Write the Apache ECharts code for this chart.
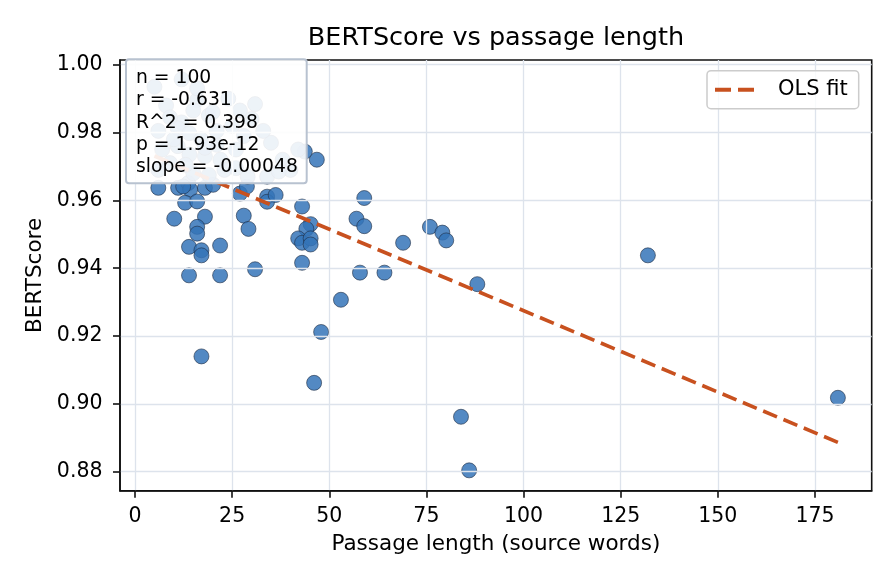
<!DOCTYPE html>
<html>

<head>
    <meta charset="utf-8" />
    <script src="https://cdn.jsdelivr.net/npm/echarts@6/dist/echarts.min.js"></script>
    <style>
        html, body { margin: 0; padding: 0; background: #fff; }
    </style>
</head>

<body>
<div id="main" style="width: 896px;height:584px;"></div>

<script>
    // passage length (source words) and BERTScore for each passage
    // first block: points visible outside the stats box, second block: the ones under it
    var passageWords = [
        6.0, 11.1, 13.7, 14.2, 18.0, 20.1, 12.4, 12.9, 16.0, 10.1,
        18.0, 16.0, 16.0, 13.9, 17.1, 17.1, 21.9, 13.9, 21.9, 30.9,
        27.0, 28.8, 28.0, 29.2, 34.0, 34.0, 36.2, 43.0, 45.2, 44.1,
        42.0, 43.0, 45.2, 45.2, 43.0, 53.0, 47.9, 17.1, 46.1, 59.0,
        57.0, 59.0, 69.0, 75.9, 79.1, 80.1, 57.9, 64.2, 88.1, 132.0,
        180.9, 83.9, 86.0, 46.8, 43.7, 30.9,
        5, 16, 19, 12, 11, 14, 17, 21, 26, 11,
        14, 18, 22, 29, 34, 6, 9, 12, 8, 20,
        25, 28, 35, 38, 15, 23, 10, 7, 16, 24,
        30, 40, 18, 13, 19, 26, 9, 27, 33, 6,
        42, 15, 21, 37
    ];
    var bertScores = [
        0.9637, 0.9637, 0.9651, 0.9632, 0.9637, 0.9646, 0.9641, 0.9593, 0.9597, 0.9546,
        0.9552, 0.9522, 0.9502, 0.9463, 0.9453, 0.9438, 0.9467, 0.9379, 0.9379, 0.9397,
        0.9620, 0.9641, 0.9555, 0.9516, 0.9611, 0.9596, 0.9616, 0.9582, 0.9530, 0.9516,
        0.9488, 0.9475, 0.9488, 0.9470, 0.9416, 0.9307, 0.9212, 0.9140, 0.9062, 0.9607,
        0.9546, 0.9524, 0.9475, 0.9522, 0.9505, 0.9482, 0.9387, 0.9387, 0.9353, 0.9438,
        0.9018, 0.8962, 0.8804, 0.9720, 0.9744, 0.9884,
        0.9935, 0.9896, 0.9850, 0.9830, 0.9813, 0.9798, 0.9780, 0.9764, 0.9750, 0.9760,
        0.9735, 0.9730, 0.9720, 0.9670, 0.9670, 0.9690, 0.9710, 0.9957, 0.9880, 0.9860,
        0.9820, 0.9790, 0.9770, 0.9720, 0.9680, 0.9690, 0.9780, 0.9750, 0.9930, 0.9900,
        0.9840, 0.9690, 0.9755, 0.9705, 0.9675, 0.9695, 0.9845, 0.9865, 0.9805, 0.9805,
        0.9750, 0.9865, 0.9805, 0.9685
    ];

    // OLS fit
    var fitSlope = -0.00048;
    var fitIntercept = 0.9755;
    var fitRange = [5, 181];

    var statLines = ['n = 100', 'r = -0.631', 'R^2 = 0.398', 'p = 1.93e-12', 'slope = -0.00048'];

    var xTicks = [0, 25, 50, 75, 100, 125, 150, 175];
    var yTicks = [0.88, 0.90, 0.92, 0.94, 0.96, 0.98, 1.00];
    var xMin = -3.86, xMax = 189.6;
    var yMin = 0.8744, yMax = 1.0014;

    var FONT = 'DejaVu Sans';
    var FIT_COLOR = '#c8511f';

    var points = passageWords.map(function(x, i) {
        return [x, bertScores[i]];
    });
    var fitLine = fitRange.map(function(x) {
        return [x, fitIntercept + fitSlope * x];
    });

    var chartDom = document.getElementById('main');
    var myChart = echarts.init(chartDom);
    var option;

    option = {
        animation: false,
        title: {
            text: 'BERTScore vs passage length',
            left: 496,
            top: 25,
            padding: 0,
            textAlign: 'center',
            textStyle: {
                fontFamily: FONT,
                fontSize: 25.5,
                fontWeight: 'normal',
                color: '#000'
            }
        },
        legend: {
            // two dashes, like the matplotlib handle
            data: [{ name: 'OLS fit', icon: 'path://M0,0H16V4H0Z M23,0H39V4H23Z' }],
            left: 707,
            top: 70.7,
            padding: [8.5, 11, 8.5, 8],
            itemWidth: 39,
            itemHeight: 4,
            selectedMode: false,
            backgroundColor: 'rgba(255,255,255,0.8)',
            borderColor: '#cccccc',
            borderWidth: 1.5,
            borderRadius: 4,
            textStyle: {
                fontFamily: FONT,
                fontSize: 21,
                color: '#000',
                padding: [0, 0, 0, 19]
            }
        },
        grid: {
            left: 120,
            right: 24.3,
            top: 60,
            bottom: 93.3,
            show: true,
            borderColor: '#111',
            borderWidth: 1.6,
            backgroundColor: 'transparent'
        },
        xAxis: {
            type: 'value',
            min: xMin,
            max: xMax,
            z: 3,
            name: 'Passage length (source words)',
            nameLocation: 'middle',
            nameGap: 43,
            nameTextStyle: { fontFamily: FONT, fontSize: 21.5, color: '#000' },
            axisLine: { show: true, onZero: false, lineStyle: { color: '#111', width: 1.6 } },
            axisTick: { show: true, length: 7, customValues: xTicks, lineStyle: { color: '#111', width: 1.6 } },
            axisLabel: {
                customValues: xTicks,
                margin: 15,
                fontFamily: FONT,
                fontSize: 20.5,
                color: '#000'
            },
            splitLine: { show: true, lineStyle: { color: '#dde3ec', width: 1.3 } }
        },
        yAxis: {
            type: 'value',
            min: yMin,
            max: yMax,
            z: 3,
            name: 'BERTScore',
            nameLocation: 'middle',
            nameGap: 73,
            nameTextStyle: { fontFamily: FONT, fontSize: 21.5, color: '#000' },
            axisLine: { show: true, onZero: false, lineStyle: { color: '#111', width: 1.6 } },
            axisTick: { show: true, length: 7, customValues: yTicks, lineStyle: { color: '#111', width: 1.6 } },
            axisLabel: {
                customValues: yTicks,
                margin: 17.5,
                fontFamily: FONT,
                fontSize: 20.5,
                color: '#000',
                formatter: function(v) {
                    return v.toFixed(2);
                }
            },
            splitLine: { show: true, lineStyle: { color: '#dde3ec', width: 1.3 } }
        },
        series: [{
            type: 'scatter',
            name: 'passages',
            data: points,
            symbolSize: 15,
            z: 2,
            silent: true,
            itemStyle: {
                color: '#3574b8',
                opacity: 0.85,
                borderColor: '#1c2b40',
                borderWidth: 0.7
            }
        }, {
            type: 'line',
            name: 'OLS fit',
            data: fitLine,
            symbol: 'none',
            z: 4,
            silent: true,
            itemStyle: { color: FIT_COLOR },
            lineStyle: { color: FIT_COLOR, width: 3.6, type: [15, 7] }
        }],
        graphic: [{
            type: 'rect',
            x: 126,
            y: 59.3,
            z: 10,
            shape: { x: 0, y: 0, width: 180.7, height: 124, r: 3 },
            style: { fill: 'rgba(255,255,255,0.9)', stroke: '#b8c2d0', lineWidth: 2 }
        }, {
            type: 'text',
            x: 136,
            y: 67,
            z: 11,
            style: {
                text: statLines.join('\n'),
                font: '18.75px "DejaVu Sans"',
                lineHeight: 22.3,
                fill: '#000',
                verticalAlign: 'top'
            }
        }]
    };

    option && myChart.setOption(option);
</script>
</body>

</html>
